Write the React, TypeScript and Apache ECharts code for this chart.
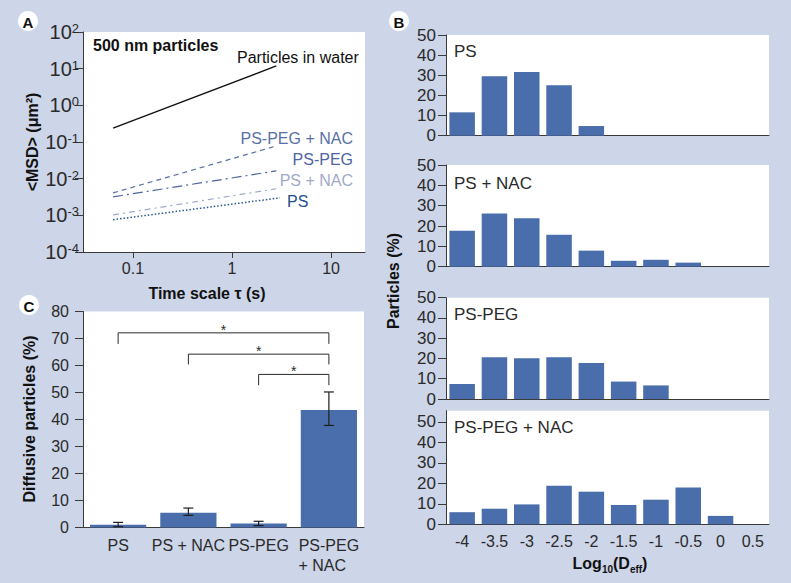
import React, { useEffect, useRef } from 'react';
import * as echarts from 'echarts';

const FONT = '"Liberation Sans", Arial, Helvetica, sans-serif';
const BG = '#cdd5e8';
const BAR = '#4a6dab';
const AXIS = '#3a3a3a';
const TXT = '#2a2a2a';

// ---------- Panel A: MSD vs time scale ----------
const msdTime = [0.063, 2.8];
const msdPsTime = [0.063, 3.05];
const msdWater = [0.24, 11.9];
const msdPsPegNac = [0.0041, 0.078];
const msdPsPeg = [0.0032, 0.0163];
const msdPsNac = [0.00103, 0.0053];
const msdPs = [0.00076, 0.003];
const aXTicks = [0.1, 1, 10];
const aYTicks = [1e-4, 1e-3, 1e-2, 1e-1, 1, 10, 100];

// ---------- Panel C: diffusive particles ----------
const cCategories = ['PS', 'PS + NAC', 'PS-PEG', 'PS-PEG\n+ NAC\u00a0\u00a0\u00a0'];
const cValues = [1.0, 5.5, 1.5, 43.5];
const cErrLow = [0.3, 4.5, 0.7, 37.8];
const cErrHigh = [1.9, 7.2, 2.3, 50.2];
// [fromIndex, toIndex, legBottom, barTop]
const cBrackets = [
  [0, 3, 68, 72.1],
  [1, 3, 60.4, 64.2],
  [2, 3, 52.7, 56.7],
];

// ---------- Panel B: histograms ----------
const logDCategories = ['-4', '-3.5', '-3', '-2.5', '-2', '-1.5', '-1', '-0.5', '0', '0.5'];
const histPS = [11.6, 29.5, 31.6, 25.0, 4.8, null, null, null, null, null];
const histPSNAC = [17.7, 26.2, 23.8, 15.7, 7.9, 2.9, 3.4, 2.0, null, null];
const histPSPEG = [7.4, 20.6, 20.1, 20.6, 17.8, 8.6, 6.7, null, null, null];
const histPSPEGNAC = [5.9, 7.6, 9.7, 18.8, 15.9, 9.4, 12.0, 18.0, 4.1, null];
const histNames = ['PS', 'PS + NAC', 'PS-PEG', 'PS-PEG + NAC'];
const histTicks = [0, 10, 20, 30, 40, 50];

const axisLineStyle = { lineStyle: { color: AXIS, width: 1 } };

function supFormatter(v: number) {
  const e = Math.round(Math.log10(v));
  return `{b|10}{s|${e}}`;
}

function buildOption() {
  const grids: any[] = [
    { left: 83, top: 32, width: 282, height: 220 },
    { left: 83, top: 311.5, width: 281, height: 216 },
    { left: 446, top: 35, width: 323, height: 100.7 },
    { left: 446, top: 165, width: 323, height: 101.7 },
    { left: 446, top: 297.7, width: 323, height: 101.3 },
    { left: 446, top: 410.7, width: 323, height: 113.6 },
  ].map((g) => ({ ...g, show: true, backgroundColor: '#ffffff', borderWidth: 0 }));

  const xAxis: any[] = [
    {
      type: 'log',
      gridIndex: 0,
      logBase: 10,
      min: 0.0313,
      max: 22,
      axisLine: axisLineStyle,
      axisTick: { customValues: aXTicks, length: 6, lineStyle: { color: AXIS } },
      axisLabel: {
        customValues: aXTicks,
        formatter: (v: number) => (v < 1 ? v.toFixed(1) : String(Math.round(v))),
        color: TXT,
        fontFamily: FONT,
        fontSize: 16,
        margin: 8,
      },
      splitLine: { show: false },
      minorTick: { show: false },
    },
    {
      type: 'category',
      gridIndex: 1,
      data: cCategories,
      axisLine: axisLineStyle,
      axisTick: { show: false },
      axisLabel: { color: TXT, fontFamily: FONT, fontSize: 16, margin: 8, lineHeight: 20, interval: 0 },
    },
  ];
  const yAxis: any[] = [
    {
      type: 'log',
      gridIndex: 0,
      logBase: 10,
      min: 1e-4,
      max: 100,
      axisLine: { show: true, ...axisLineStyle },
      axisTick: { show: true, customValues: aYTicks, length: 8, lineStyle: { color: AXIS } },
      axisLabel: {
        customValues: aYTicks,
        formatter: supFormatter,
        color: TXT,
        fontFamily: FONT,
        fontSize: 16,
        margin: 4,
        rich: {
          b: { fontSize: 20, fontFamily: FONT, color: TXT, verticalAlign: 'bottom' },
          s: { fontSize: 13, fontFamily: FONT, color: TXT, verticalAlign: 'top' },
        },
      },
      splitLine: { show: false },
      minorTick: { show: false },
    },
    {
      type: 'value',
      gridIndex: 1,
      min: 0,
      max: 80,
      interval: 10,
      axisLine: { show: true, ...axisLineStyle },
      axisTick: { show: true, length: 8, lineStyle: { color: AXIS } },
      axisLabel: { color: TXT, fontFamily: FONT, fontSize: 16, margin: 14 },
      splitLine: { show: false },
    },
  ];

  const hists = [histPS, histPSNAC, histPSPEG, histPSPEGNAC];
  hists.forEach((_, i) => {
    const gi = i + 2;
    const last = i === 3;
    xAxis.push({
      type: 'category',
      gridIndex: gi,
      data: logDCategories,
      axisLine: axisLineStyle,
      axisTick: { show: false },
      axisLabel: { show: last, color: TXT, fontFamily: FONT, fontSize: 16, margin: 9, interval: 0 },
    });
    yAxis.push({
      type: 'value',
      gridIndex: gi,
      min: 0,
      max: last ? 55.4 : 50,
      axisLine: { show: true, ...axisLineStyle },
      axisTick: { show: true, length: 8, customValues: histTicks, lineStyle: { color: AXIS } },
      axisLabel: { customValues: histTicks, color: TXT, fontFamily: FONT, fontSize: 17, margin: 10 },
      splitLine: { show: false },
    });
  });

  const lineSeries = (name: string, t: number[], v: number[], color: string, type: any, width = 1.2) => ({
    type: 'line',
    name,
    xAxisIndex: 0,
    yAxisIndex: 0,
    data: t.map((x, k) => [x, v[k]]),
    symbol: 'none',
    lineStyle: { color, width, type },
    z: 3,
  });

  const series: any[] = [
    lineSeries('Particles in water', msdTime, msdWater, '#111111', 'solid', 1.4),
    lineSeries('PS-PEG + NAC', msdTime, msdPsPegNac, '#5870a6', [5, 4], 1.2),
    lineSeries('PS-PEG', msdTime, msdPsPeg, '#4d659f', [10, 4, 2, 4], 1.2),
    lineSeries('PS + NAC', msdTime, msdPsNac, '#a0aac9', [6, 4, 2, 4], 1.2),
    lineSeries('PS', msdPsTime, msdPs, '#2a5592', [1.5, 2], 1.5),
    {
      type: 'bar',
      name: 'Diffusive particles',
      xAxisIndex: 1,
      yAxisIndex: 1,
      data: cValues,
      barWidth: '80%',
      itemStyle: { color: BAR },
    },
    {
      type: 'custom',
      name: 'error',
      xAxisIndex: 1,
      yAxisIndex: 1,
      data: cValues.map((_, i) => [i, cErrLow[i], cErrHigh[i]]),
      z: 10,
      renderItem: (params: any, api: any) => {
        const lo = api.coord([api.value(0), api.value(1)]);
        const hi = api.coord([api.value(0), api.value(2)]);
        const w = 5;
        const st = { stroke: '#1e1e1e', lineWidth: 1.2 };
        return {
          type: 'group',
          children: [
            { type: 'line', shape: { x1: lo[0], y1: lo[1], x2: hi[0], y2: hi[1] }, style: st },
            { type: 'line', shape: { x1: lo[0] - w, y1: lo[1], x2: lo[0] + w, y2: lo[1] }, style: st },
            { type: 'line', shape: { x1: hi[0] - w, y1: hi[1], x2: hi[0] + w, y2: hi[1] }, style: st },
          ],
        };
      },
    },
    {
      type: 'custom',
      name: 'significance',
      xAxisIndex: 1,
      yAxisIndex: 1,
      data: cBrackets,
      z: 10,
      renderItem: (params: any, api: any) => {
        const a0 = api.coord([api.value(0), api.value(2)]);
        const a1 = api.coord([api.value(0), api.value(3)]);
        const b1 = api.coord([api.value(1), api.value(3)]);
        const b0 = api.coord([api.value(1), api.value(2)]);
        return {
          type: 'group',
          children: [
            {
              type: 'polyline',
              shape: { points: [a0, a1, b1, b0] },
              style: { stroke: '#2a2a2a', lineWidth: 1, fill: 'none' },
            },
            {
              type: 'text',
              x: (a1[0] + b1[0]) / 2,
              y: a1[1] - 3,
              style: {
                text: '*',
                fontSize: 14,
                fontFamily: FONT,
                fill: '#2a2a2a',
                align: 'center',
                verticalAlign: 'middle',
              },
            },
          ],
        };
      },
    },
  ];

  hists.forEach((h, i) => {
    series.push({
      type: 'bar',
      name: histNames[i],
      xAxisIndex: i + 2,
      yAxisIndex: i + 2,
      data: h,
      barWidth: '79%',
      itemStyle: { color: BAR },
    });
  });

  const txt = (text: string, x: number, y: number, opts: any = {}) => ({
    type: 'text',
    x,
    y,
    rotation: opts.rotation || 0,
    z: 20,
    style: {
      text,
      fontFamily: FONT,
      fontSize: opts.fontSize || 16,
      fontWeight: opts.bold ? 'bold' : 'normal',
      fill: opts.color || TXT,
      align: opts.align || 'left',
      verticalAlign: 'middle',
    },
  });

  const badge = (letter: string, x: number, y: number) => ({
    type: 'group',
    z: 20,
    children: [
      { type: 'circle', shape: { cx: x, cy: y, r: 10 }, style: { fill: '#ffffff', stroke: 'none' } },
      {
        type: 'text',
        x,
        y: y + 1,
        style: {
          text: letter,
          fontFamily: FONT,
          fontSize: 15,
          fontWeight: 'bold',
          fill: '#111',
          align: 'center',
          verticalAlign: 'middle',
        },
      },
    ],
  });

  const graphic: any[] = [
    badge('A', 28, 21),
    badge('B', 399, 21),
    badge('C', 29, 305),
    txt('500 nm particles', 93, 45, { bold: true, color: '#111' }),
    txt('Particles in water', 237, 57, { color: '#111' }),
    txt('PS-PEG + NAC', 353, 138, { align: 'right', color: '#5870a6' }),
    txt('PS-PEG', 353, 159, { align: 'right', color: '#4d659f' }),
    txt('PS + NAC', 353, 180, { align: 'right', color: '#a0aac9' }),
    txt('PS', 287, 201, { color: '#1f4f8d' }),
    txt('<MSD> (\u03bcm\u00b2)', 32, 142, { bold: true, rotation: Math.PI / 2, align: 'center', color: '#111' }),
    txt('Time scale \u03c4 (s)', 207, 293, { bold: true, align: 'center', color: '#111' }),
    txt('Diffusive particles (%)', 29, 419, { bold: true, rotation: Math.PI / 2, align: 'center', color: '#111' }),
    txt('Particles (%)', 393, 281, { bold: true, rotation: Math.PI / 2, align: 'center', color: '#111' }),
    txt('PS', 454, 51, { fontSize: 17 }),
    txt('PS + NAC', 454, 183, { fontSize: 17 }),
    txt('PS-PEG', 454, 314, { fontSize: 17 }),
    txt('PS-PEG + NAC', 454, 427, { fontSize: 17 }),
    {
      type: 'text',
      x: 610,
      y: 565,
      z: 20,
      style: {
        text: '{a|Log}{s|10}{a|(D}{s|eff}{a|)}',
        align: 'center',
        verticalAlign: 'middle',
        rich: {
          a: { fontFamily: FONT, fontSize: 16, fontWeight: 'bold', fill: '#111', verticalAlign: 'top' },
          s: { fontFamily: FONT, fontSize: 10, fontWeight: 'bold', fill: '#111', verticalAlign: 'bottom', padding: [9, 0, 0, 0] },
        },
      },
    },
  ];

  return {
    animation: false,
    backgroundColor: BG,
    textStyle: { fontFamily: FONT },
    grid: grids,
    xAxis,
    yAxis,
    series,
    graphic,
  };
}

export default function App() {
  const ref = useRef<HTMLDivElement>(null);
  useEffect(() => {
    document.body.style.margin = '0';
    const chart = echarts.init(ref.current as HTMLDivElement, null, { renderer: 'svg' });
    chart.setOption(buildOption() as any);
    return () => chart.dispose();
  }, []);
  return <div ref={ref} style={{ width: 791, height: 583 }} />;
}
